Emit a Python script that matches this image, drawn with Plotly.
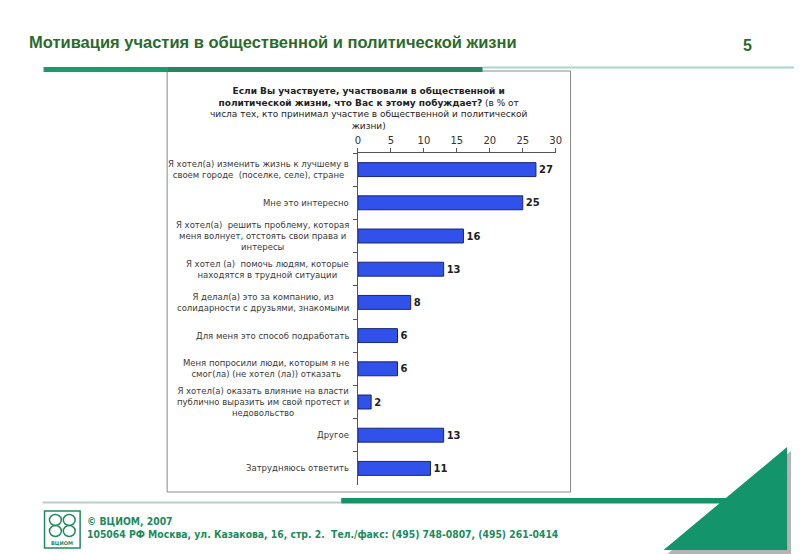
import plotly.graph_objects as go

W, H = 800, 554

categories = [
    "Я хотел(а) изменить жизнь к лучшему в<br>своем городе  (поселке, селе), стране",
    "Мне это интересно",
    "Я хотел(а)  решить проблему, которая<br>меня волнует, отстоять свои права и<br>интересы",
    "Я хотел (а)  помочь людям, которые<br>находятся в трудной ситуации",
    "Я делал(а) это за компанию, из<br>солидарности с друзьями, знакомыми",
    "Для меня это способ подработать",
    "Меня попросили люди, которым я не<br>смог(ла) (не хотел (ла)) отказать",
    "Я хотел(а) оказать влияние на власти<br>публично выразить им свой протест и<br>недовольство",
    "Другое",
    "Затрудняюсь ответить",
]
values = [27, 25, 16, 13, 8, 6, 6, 2, 13, 11]
x_ticks = [0, 5, 10, 15, 20, 25, 30]

page_title = "Мотивация участия в общественной и политической жизни"
page_num = "5"
chart_title = ("<b>Если Вы участвуете, участвовали в общественной и</b><br>"
               "<b>политической жизни, что Вас к этому побуждает?</b> (в % от<br>"
               "числа тех, кто принимал участие в общественной и политической<br>"
               "жизни)")
footer1 = "© ВЦИОМ, 2007"
footer2 = "105064 РФ Москва, ул. Казакова, 16, стр. 2.  Тел./факс: (495) 748-0807, (495) 261-0414"

keys = [f"c{i}" for i in range(len(categories))]


def px(x):
    return x / W


def py(y):
    return 1 - y / H


fig = go.Figure()
fig.add_trace(go.Bar(
    y=keys, x=values, orientation="h",
    marker=dict(color="#3152ea", line=dict(color="#1a2470", width=1)),
    width=0.42,
    text=values, texttemplate="<b>%{x}</b>", textposition="outside",
    textfont=dict(family="DejaVu Sans", size=10, color="#222222"),
    cliponaxis=False, hoverinfo="skip",
))

shapes = []
# chart box
shapes.append(dict(type="rect", xref="paper", yref="paper",
                   x0=px(166), x1=px(574), y0=py(492), y1=py(71),
                   line=dict(color="#8a8a8a", width=1), fillcolor="white", layer="below"))
# top bars
shapes.append(dict(type="rect", xref="paper", yref="paper",
                   x0=px(485), x1=px(800), y0=py(68.5), y1=py(66.5),
                   line=dict(width=0), fillcolor="#a9d6c6"))
shapes.append(dict(type="rect", xref="paper", yref="paper",
                   x0=px(41), x1=px(166), y0=py(72), y1=py(67),
                   line=dict(width=0), fillcolor="#1c9a6c"))
shapes.append(dict(type="rect", xref="paper", yref="paper",
                   x0=px(166), x1=px(485), y0=py(72), y1=py(67),
                   line=dict(width=0), fillcolor="#27845f"))
# bottom lines
shapes.append(dict(type="rect", xref="paper", yref="paper",
                   x0=px(40), x1=px(342), y0=py(503.5), y1=py(501.5),
                   line=dict(width=0), fillcolor="#b9cfc4"))
shapes.append(dict(type="rect", xref="paper", yref="paper",
                   x0=px(342), x1=px(740), y0=py(503.5), y1=py(498),
                   line=dict(width=0), fillcolor="#15946a"))


def tri(pts):
    d = "M " + " L ".join(f"{px(a)},{py(b)}" for a, b in pts) + " Z"
    return d


shapes.append(dict(type="path", xref="paper", yref="paper",
                   path=tri([(797, 451), (672, 554), (797, 554)]),
                   line=dict(width=0), fillcolor="#b4b4b4"))
shapes.append(dict(type="path", xref="paper", yref="paper",
                   path=tri([(793, 447), (668, 550), (793, 550)]),
                   line=dict(width=0), fillcolor="#13946a"))
# logo
shapes.append(dict(type="rect", xref="paper", yref="paper",
                   x0=px(42), x1=px(78), y0=py(548), y1=py(511),
                   line=dict(color="#1f8a5e", width=1.5), fillcolor="white"))
for cx, cy in [(53, 520), (67, 520), (53, 531), (67, 531)]:
    shapes.append(dict(type="circle", xref="paper", yref="paper",
                       x0=px(cx - 6), x1=px(cx + 6), y0=py(cy + 5.5), y1=py(cy - 5.5),
                       line=dict(color="#1f8a5e", width=1.5)))

annotations = [
    dict(x=px(24), y=py(42), xref="paper", yref="paper", xanchor="left", yanchor="middle",
         text=f"<b>{page_title}</b>", showarrow=False,
         font=dict(family="Liberation Sans Narrow, Arial Narrow, Liberation Sans", size=16.5, color="#2c6a2c")),
    dict(x=px(753), y=py(46), xref="paper", yref="paper", xanchor="center", yanchor="middle",
         text=f"<b>{page_num}</b>", showarrow=False,
         font=dict(family="Liberation Sans", size=16, color="#2c6a2c")),
    dict(x=px(370), y=py(108), xref="paper", yref="paper", xanchor="center", yanchor="middle",
         text=chart_title, showarrow=False, align="center",
         font=dict(family="DejaVu Sans", size=9, color="#222222")),
    dict(x=px(83), y=py(521), xref="paper", yref="paper", xanchor="left", yanchor="middle",
         text=f"<b>{footer1}</b>", showarrow=False,
         font=dict(family="DejaVu Sans Condensed, DejaVu Sans", size=10.3, color="#1d8a5e")),
    dict(x=px(83), y=py(534), xref="paper", yref="paper", xanchor="left", yanchor="middle",
         text=f"<b>{footer2}</b>", showarrow=False,
         font=dict(family="DejaVu Sans Condensed, DejaVu Sans", size=10.3, color="#1d8a5e")),
    dict(x=px(60), y=py(543), xref="paper", yref="paper", xanchor="center", yanchor="middle",
         text="<b>ВЦИОМ</b>", showarrow=False,
         font=dict(family="DejaVu Sans", size=5, color="#1d8a5e")),
]
for k, lab in zip(keys, categories):
    annotations.append(dict(x=px(352), y=k, xref="paper", yref="y", xanchor="right", yanchor="middle",
                            text=lab, showarrow=False, align="center",
                            font=dict(family="DejaVu Sans", size=8.5, color="#3a3a3a")))

fig.update_layout(
    width=W, height=H, autosize=False,
    margin=dict(l=0, r=0, t=0, b=0),
    paper_bgcolor="white", plot_bgcolor="rgba(0,0,0,0)",
    showlegend=False,
    shapes=shapes, annotations=annotations,
    xaxis=dict(domain=[px(359), px(559)], range=[0, 30], side="top",
               tickvals=x_ticks, ticks="outside", ticklen=4, tickcolor="#555555",
               showline=True, linecolor="#555555", linewidth=1,
               showgrid=False, zeroline=False,
               tickfont=dict(family="DejaVu Sans", size=10, color="#333333")),
    yaxis=dict(domain=[py(485), py(153)], categoryorder="array", categoryarray=keys,
               range=[len(keys) - 0.5, -0.5], showticklabels=False,
               ticks="outside", tickson="boundaries", ticklen=4, tickcolor="#555555",
               showline=True, linecolor="#555555", linewidth=1,
               showgrid=False, zeroline=False),
)

fig.write_html("out.html",
               config={"displayModeBar": False},
               post_script="document.body.style.margin='0';document.body.style.overflow='hidden';")
